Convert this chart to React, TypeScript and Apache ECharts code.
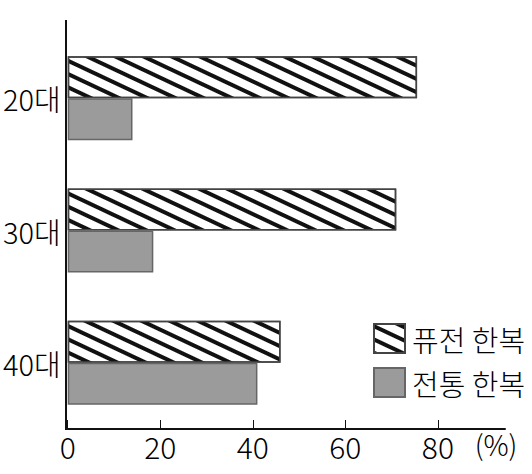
import React, { useEffect, useRef } from "react";
import * as echarts from "echarts";

const categories = ["20대", "30대", "40대"];
const fusionValues = [75.5, 71, 46];
const traditionalValues = [14, 18.5, 41];
const xTicks = [0, 20, 40, 60, 80];
const seriesNames = ["퓨전 한복", "전통 한복"];

const FONT = "'Noto Sans CJK KR', 'Noto Sans', sans-serif";
const W = 300;

export default function App() {
  const ref = useRef<HTMLDivElement>(null);
  useEffect(() => {
    if (!ref.current) return;
    const chart = echarts.init(ref.current, undefined, { renderer: "svg" });
    const hatch = {
      symbol: "rect",
      symbolSize: 1,
      dashArrayX: [1, 0],
      dashArrayY: [3.5, 7.5],
      rotation: 0.44,
      color: "#111",
      backgroundColor: "#fff",
    };
    chart.setOption({
      animation: false,
      backgroundColor: "#fff",
      grid: { left: 66, right: 27, top: 32, bottom: 45, containLabel: false },
      legend: {
        orient: "vertical",
        left: 368,
        top: 318,
        itemWidth: 31,
        itemHeight: 29,
        itemGap: 13,
        icon: "rect",
        textStyle: { fontFamily: FONT, fontWeight: W, fontSize: 29, color: "#000", padding: [0, 0, 0, 2] },
        data: seriesNames,
      },
      xAxis: {
        type: "value",
        min: 0,
        max: 94.5,
        interval: 20,
        splitLine: { show: false },
        axisLine: { show: true, lineStyle: { color: "#111", width: 2 } },
        axisTick: { show: true, inside: true, length: 9, customValues: xTicks, lineStyle: { color: "#111", width: 1 } },
        axisLabel: {
          customValues: xTicks,
          fontFamily: FONT,
          fontWeight: W,
          fontSize: 30,
          color: "#000",
          margin: 2,
        },
      },
      yAxis: {
        type: "category",
        data: categories,
        inverse: true,
        axisLine: { show: false },
        axisTick: { show: false },
        axisLabel: { fontFamily: FONT, fontWeight: W, fontSize: 29, color: "#000", margin: 7 },
      },
      graphic: [
        { type: "rect", shape: { x: 65, y: 20, width: 2, height: 410 }, style: { fill: "#111" }, z: 100 },
        {
          type: "text",
          x: 496,
          y: 444,
          style: { text: "(%)", fontFamily: FONT, fontWeight: W, fontSize: 28, fill: "#000", align: "center", verticalAlign: "middle" },
        },
      ],
      series: [
        {
          name: seriesNames[0],
          type: "bar",
          data: fusionValues,
          barWidth: 42,
          barGap: "0%",
          itemStyle: { color: "#fff", borderColor: "#444", borderWidth: 1.5, decal: hatch },
        },
        {
          name: seriesNames[1],
          type: "bar",
          data: traditionalValues,
          barWidth: 42,
          barGap: "0%",
          itemStyle: { color: "#9b9b9b", borderColor: "#666", borderWidth: 1.5 },
        },
      ],
    });
    return () => chart.dispose();
  }, []);
  return <div ref={ref} style={{ width: 532, height: 474, position: "absolute", left: 0, top: 0 }} />;
}
